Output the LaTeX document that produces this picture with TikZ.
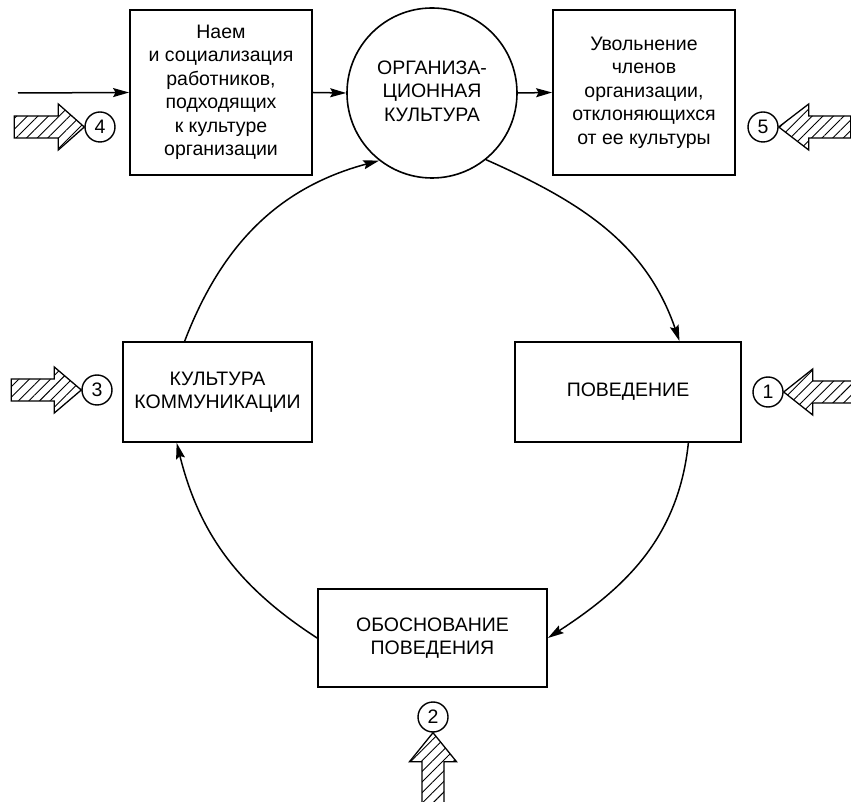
\documentclass[tikz,border=0pt]{standalone}
\usepackage{fontspec}
\setmainfont{Liberation Sans}
\usetikzlibrary{arrows.meta,patterns.meta,calc}
\newcommand\dfont{\fontsize{19.5}{23.5}\selectfont}
\begin{document}
\begin{tikzpicture}[x=1pt,y=1pt,
  blk/.style={draw,line width=1.8pt,align=center,inner sep=0pt,font=\dfont},
  org/.style={draw,circle,line width=1.6pt,align=center,inner sep=0pt,minimum size=170pt,font=\dfont},
  num/.style={draw,circle,line width=1.4pt,inner sep=0pt,minimum size=30pt,font=\dfont},
  arr/.style={line width=1.5pt,-{Stealth[length=16pt,width=9pt,inset=2.5pt]}},
  hatch/.style={draw,line width=1.3pt,pattern={Lines[angle=45,distance=7.5pt,line width=0.9pt]}}]
\useasboundingbox (0,0) rectangle (851,801);
% main blocks
\node[blk,minimum width=182pt,minimum height=165pt] (b4) at (221,708.5) {Наем\\и социализация\\работников,\\подходящих\\к культуре\\организации};
\node[org] (oc) at (432,708) {\raisebox{-4pt}{\begin{tabular}{@{}c@{}}ОРГАНИЗА-\\ЦИОННАЯ\\КУЛЬТУРА\end{tabular}}};
\node[blk,minimum width=182pt,minimum height=165pt] (b5) at (644,708.5) {Увольнение\\членов\\организации,\\отклоняющихся\\от ее культуры};
\node[blk,minimum width=189pt,minimum height=100pt] (b3) at (217.5,409) {КУЛЬТУРА\\КОММУНИКАЦИИ};
\node[blk,minimum width=226pt,minimum height=100pt] (b1) at (628,409) {ПОВЕДЕНИЕ};
\node[blk,minimum width=229pt,minimum height=98pt] (b2) at (432.5,163) {ОБОСНОВАНИЕ\\ПОВЕДЕНИЯ};
% numbered circles
\node[num] (c4) at (100,674) {4};
\node[num] (c5) at (763,674) {5};
\node[num] (c3) at (97,411) {3};
\node[num] (c1) at (768,409) {1};
\node[num] (c2) at (433,84) {2};
% straight connectors
\coordinate (in4) at (18,708);
\draw[arr] (in4) -- (b4.west);
\draw[arr] (b4.east) -- (oc.west);
\draw[arr] (oc.east) -- (b5.west);
% cycle arcs
\draw[arr] (oc.-51) to[out=-24,in=109] ($(b1.north west)!0.726!(b1.north east)$);
\draw[arr] ($(b1.south west)!0.765!(b1.south east)$) to[out=-96,in=33] (b2.east);
\draw[arr] (b2.west) to[out=147,in=-76] ($(b3.south west)!0.286!(b3.south east)$);
\draw[arr] ($(b3.north west)!0.328!(b3.north east)$) to[out=69,in=195] (oc.232);
% hatched arrows
\draw[hatch,shift={(c4.west)}] (0,0) -- (-26,23) -- (-26,11) -- (-70,11) -- (-70,-11) -- (-26,-11) -- (-26,-23) -- cycle;
\draw[hatch,shift={(c3.west)}] (0,0) -- (-27,23) -- (-27,11) -- (-70,11) -- (-70,-11) -- (-27,-11) -- (-27,-23) -- cycle;
\draw[hatch,shift={(c5.east)}] (0,0) -- (30,23) -- (30,11) -- (72,11) -- (72,-11) -- (30,-11) -- (30,-23) -- cycle;
\draw[hatch,shift={(c1.east)}] (0,0) -- (29,23) -- (29,11) -- (72,11) -- (72,-11) -- (29,-11) -- (29,-23) -- cycle;
\draw[hatch,shift={(c2.south)}] (0,0) -- (-23.5,-29) -- (-11,-29) -- (-11,-75) -- (11,-75) -- (11,-29) -- (23.5,-29) -- cycle;
\end{tikzpicture}
\end{document}
